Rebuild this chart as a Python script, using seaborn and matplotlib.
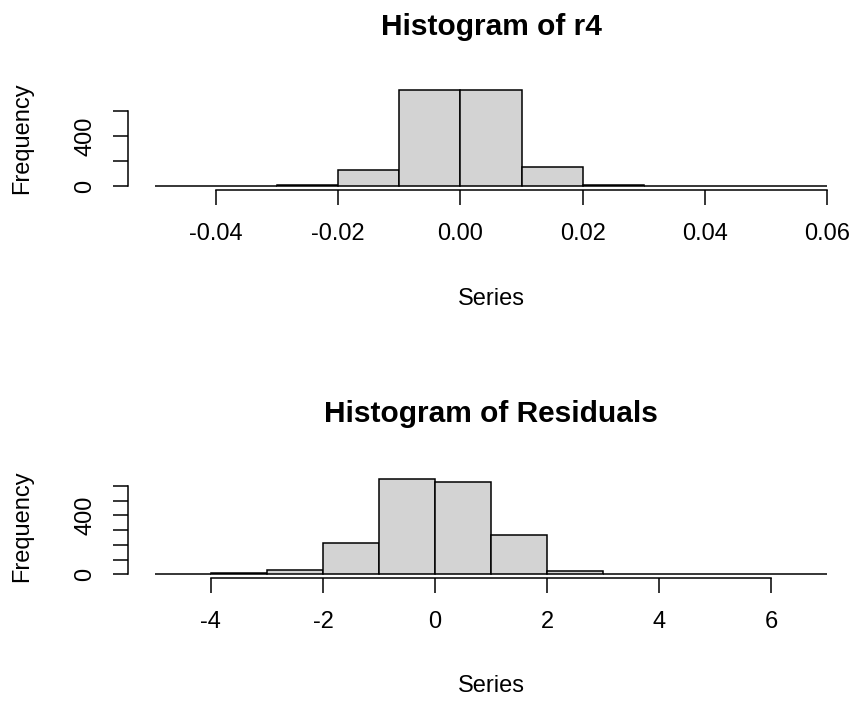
import numpy as np
import pandas as pd
import matplotlib
matplotlib.use("Agg")
import matplotlib.pyplot as plt
import seaborn as sns

# ---- data ----
r4_edges = [-0.05, -0.04, -0.03, -0.02, -0.01, 0.00, 0.01, 0.02, 0.03, 0.04, 0.05, 0.06]
r4_counts = [1, 1, 8, 128, 768, 768, 154, 8, 1, 0, 1]

res_edges = [-5, -4, -3, -2, -1, 0, 1, 2, 3, 4, 5, 6, 7]
res_counts = [0, 8, 31, 215, 650, 630, 270, 22, 0, 0, 0, 0]

r4_xticks = [-0.04, -0.02, 0.00, 0.02, 0.04, 0.06]
r4_xlabels = ["-0.04", "-0.02", "0.00", "0.02", "0.04", "0.06"]
r4_yticks = [0, 200, 400, 600]
r4_ylabels = ["0", "", "400", ""]

res_xticks = [-4, -2, 0, 2, 4, 6]
res_xlabels = ["-4", "-2", "0", "2", "4", "6"]
res_yticks = [0, 100, 200, 300, 400, 500, 600]
res_ylabels = ["0", "", "", "", "400", "", ""]

titles = ["Histogram of r4", "Histogram of Residuals"]
xlabel = "Series"
ylabel = "Frequency"

sns.set_style("white")
plt.rcParams["font.family"] = ["Liberation Sans", "DejaVu Sans"]
plt.rcParams["text.color"] = "black"

W, H = 855, 702
fig = plt.figure(figsize=(W / 100, H / 100), dpi=100)

def px_axes(left, top, right, bottom):
    return fig.add_axes([left / W, 1 - bottom / H, (right - left) / W, (bottom - top) / H])

ax1 = px_axes(128, 86, 854, 190)
ax2 = px_axes(128, 475, 854, 578)

FS = 17
TFS = 21.5

panels = [
    (ax1, r4_edges, r4_counts, r4_xticks, r4_xlabels, r4_yticks, r4_ylabels, titles[0], 27, 299, (190, 86)),
    (ax2, res_edges, res_counts, res_xticks, res_xlabels, res_yticks, res_ylabels, titles[1], 414, 686, (578, 475)),
]

for ax, edges, counts, xt, xl, yt, yl, title, title_y, xlab_y, (ybot, ytop) in panels:
    e = np.asarray(edges, dtype=float)
    centers = list((e[:-1] + e[1:]) / 2)
    df = pd.DataFrame({"x": centers, "w": list(counts)})
    sns.histplot(data=df, x="x", weights="w", bins=list(edges), ax=ax,
                 color="#d3d3d3", edgecolor="black", linewidth=1.1, alpha=1.0)
    rng = e[-1] - e[0]
    ax.set_xlim(e[0] - 0.04 * rng, e[-1] + 0.04 * rng)
    m = max(counts)
    ax.set_ylim(-0.04 * m, 1.04 * m)
    for s in ["top", "right"]:
        ax.spines[s].set_visible(False)
    ax.spines["left"].set_bounds(yt[0], yt[-1])
    ax.spines["bottom"].set_bounds(xt[0], xt[-1])
    for s in ["left", "bottom"]:
        ax.spines[s].set_color("black")
        ax.spines[s].set_linewidth(1.1)
    ax.set_xticks(xt)
    ax.set_xticklabels(xl)
    ax.set_yticks(yt)
    ax.set_yticklabels(yl, rotation=90, va="center")
    ax.tick_params(axis="both", direction="out", length=11, width=1.1, colors="black",
                   labelsize=FS, bottom=True, left=True)
    ax.tick_params(axis="x", pad=13)
    ax.tick_params(axis="y", pad=12)
    ax.set_xlabel("")
    ax.set_ylabel("")
    fig.text(491 / W, 1 - title_y / H, title, ha="center", va="center",
             fontsize=TFS, fontweight="bold")
    fig.text(491 / W, 1 - xlab_y / H, xlabel, ha="center", va="center", fontsize=FS)
    fig.text(22 / W, 1 - ((ybot + ytop) / 2) / H, ylabel, ha="center", va="center",
             rotation=90, fontsize=FS)

fig.savefig("out.png", dpi=100, facecolor="white")
